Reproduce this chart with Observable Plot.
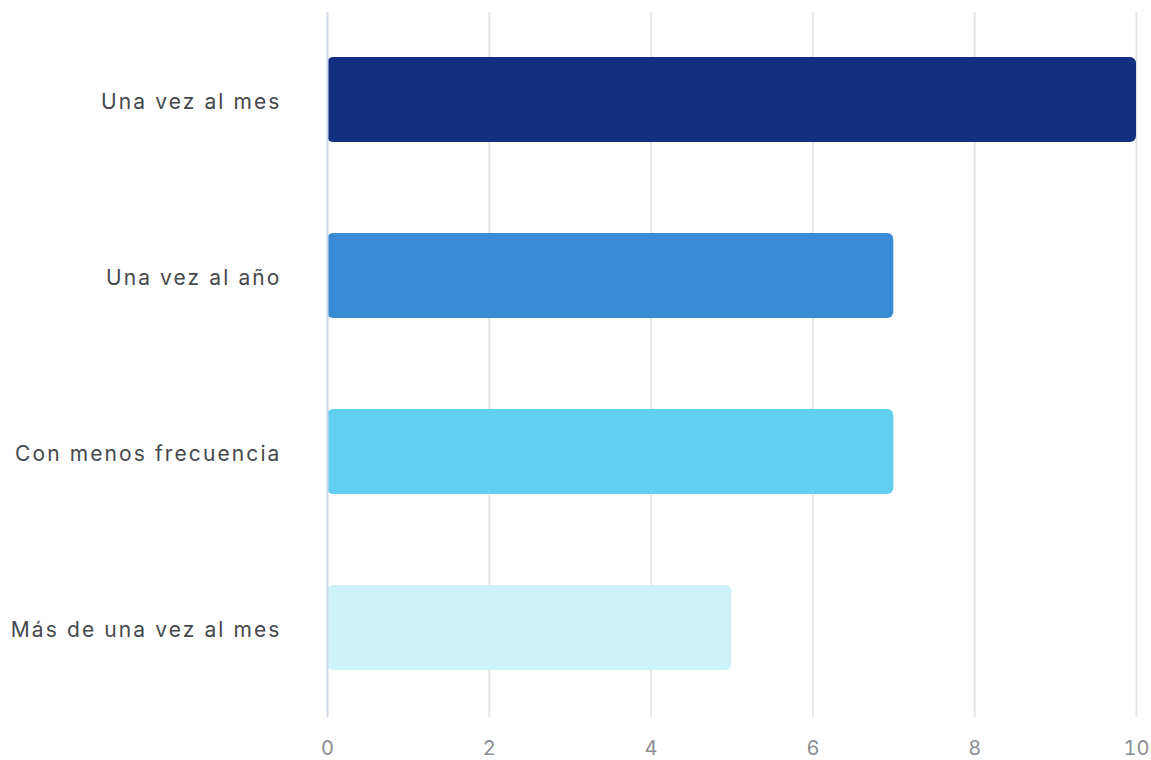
<!DOCTYPE html>
<html><head><meta charset="utf-8">
<script src="https://cdn.jsdelivr.net/npm/d3@7"></script>
<script src="https://cdn.jsdelivr.net/npm/@observablehq/plot@0.6"></script>
<style>
html,body{margin:0;padding:0;background:#fff;}
svg{font-family:Inter,"Noto Sans",sans-serif;}
</style></head>
<body><div id="chart"></div>
<script>
const categories = ["Una vez al mes", "Una vez al año", "Con menos frecuencia", "Más de una vez al mes"];
const values = [10, 7, 7, 5];
const colors = ["#122f80", "#3a8bd6", "#61cfef", "#cdf2f9"];
const xTicks = [0, 2, 4, 6, 8, 10];

const data = categories.map((c, i) => ({category: c, value: values[i], color: colors[i]}));

const chart = Plot.plot({
  width: 1151,
  height: 760,
  marginLeft: 327,
  marginRight: 15,
  marginTop: 10,
  marginBottom: 43,
  style: {fontFamily: "Inter, 'Noto Sans', sans-serif", background: "#fff"},
  x: {domain: [0, 10], ticks: xTicks, label: null},
  y: {domain: categories, label: null, paddingInner: 0.519, paddingOuter: 0.26},
  marks: [
    Plot.ruleX(xTicks.filter(d => d !== 0), {stroke: "#e6e7ea", strokeWidth: 2, insetTop: 2}),
    Plot.barX(data, {y: "category", x: "value", fill: "color", rx: 6}),
    Plot.ruleX([0], {stroke: "#cfd8e8", strokeWidth: 2, insetTop: 2}),
    Plot.axisX({ticks: xTicks, tickSize: 0, tickPadding: 23, fontSize: 20, fill: "#8a8d93", label: null, stroke: "none"}),
    Plot.axisY({tickSize: 0, tickPadding: 46, fontSize: 21, fill: "#45484d", label: null, dy: 2})
  ]
});
document.getElementById("chart").appendChild(chart);
d3.select(chart).selectAll('g[aria-label="y-axis tick label"] text').style("letter-spacing", "2.1px");
</script></body></html>
